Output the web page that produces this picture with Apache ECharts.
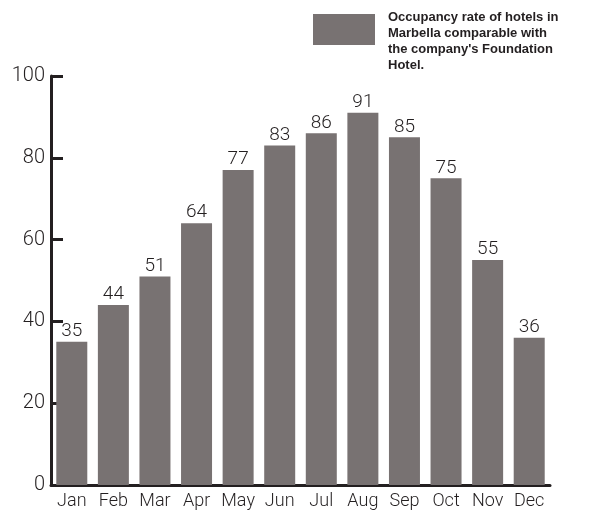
<!DOCTYPE html>
<html>
<head>
<meta charset="utf-8">
<script src="https://cdn.jsdelivr.net/npm/echarts@6/dist/echarts.min.js"></script>
<style>
  html, body { margin: 0; padding: 0; background: #fff; }
  #chart { width: 590px; height: 510px; }
</style>
</head>
<body>
<div id="chart"></div>
<script>
// months and occupancy values (%)
const months = ['Jan', 'Feb', 'Mar', 'Apr', 'May', 'Jun', 'Jul', 'Aug', 'Sep', 'Oct', 'Nov', 'Dec'];
const occupancy = [35, 44, 51, 64, 77, 83, 86, 91, 85, 75, 55, 36];
const yTicks = [0, 20, 40, 60, 80, 100];
const legendText = "Occupancy rate of hotels in\nMarbella comparable with\nthe company's Foundation\nHotel.";

const ink = '#231f20';
const barColor = '#787272';
const font = 'Roboto';

let myChart = echarts.init(document.getElementById('chart'));

let option = {
  animation: false,
  grid: { left: 51, right: 40, top: 76, bottom: 25 },
  xAxis: {
    type: 'category',
    data: months,
    axisLine: { lineStyle: { color: ink, width: 3 } },
    axisTick: { inside: true, length: 8, lineStyle: { color: ink, width: 3 } },
    axisLabel: { interval: 0, color: ink, fontFamily: font, fontWeight: 300, fontSize: 18, margin: 7 }
  },
  yAxis: {
    type: 'value',
    min: yTicks[0],
    max: yTicks[yTicks.length - 1],
    interval: 20,
    splitLine: { show: false },
    axisLine: { show: true, lineStyle: { color: ink, width: 3 } },
    axisTick: { show: true, inside: true, length: 12, lineStyle: { color: ink, width: 3 } },
    axisLabel: { color: ink, fontFamily: font, fontWeight: 300, fontSize: 20, margin: 6 }
  },
  series: [
    {
      type: 'bar',
      data: occupancy,
      barWidth: 31,
      itemStyle: { color: barColor },
      label: {
        show: true,
        position: 'top',
        distance: 1,
        color: ink,
        fontFamily: font,
        fontWeight: 300,
        fontSize: 19
      }
    }
  ],
  graphic: [
    { type: 'rect', left: 313, top: 14, shape: { width: 62, height: 31 }, style: { fill: barColor } },
    {
      type: 'text', left: 388, top: 9,
      style: { text: legendText, fill: ink, font: 'bold 13px "Liberation Sans"', lineHeight: 16 }
    }
  ]
};

option && myChart.setOption(option);
</script>
</body>
</html>
